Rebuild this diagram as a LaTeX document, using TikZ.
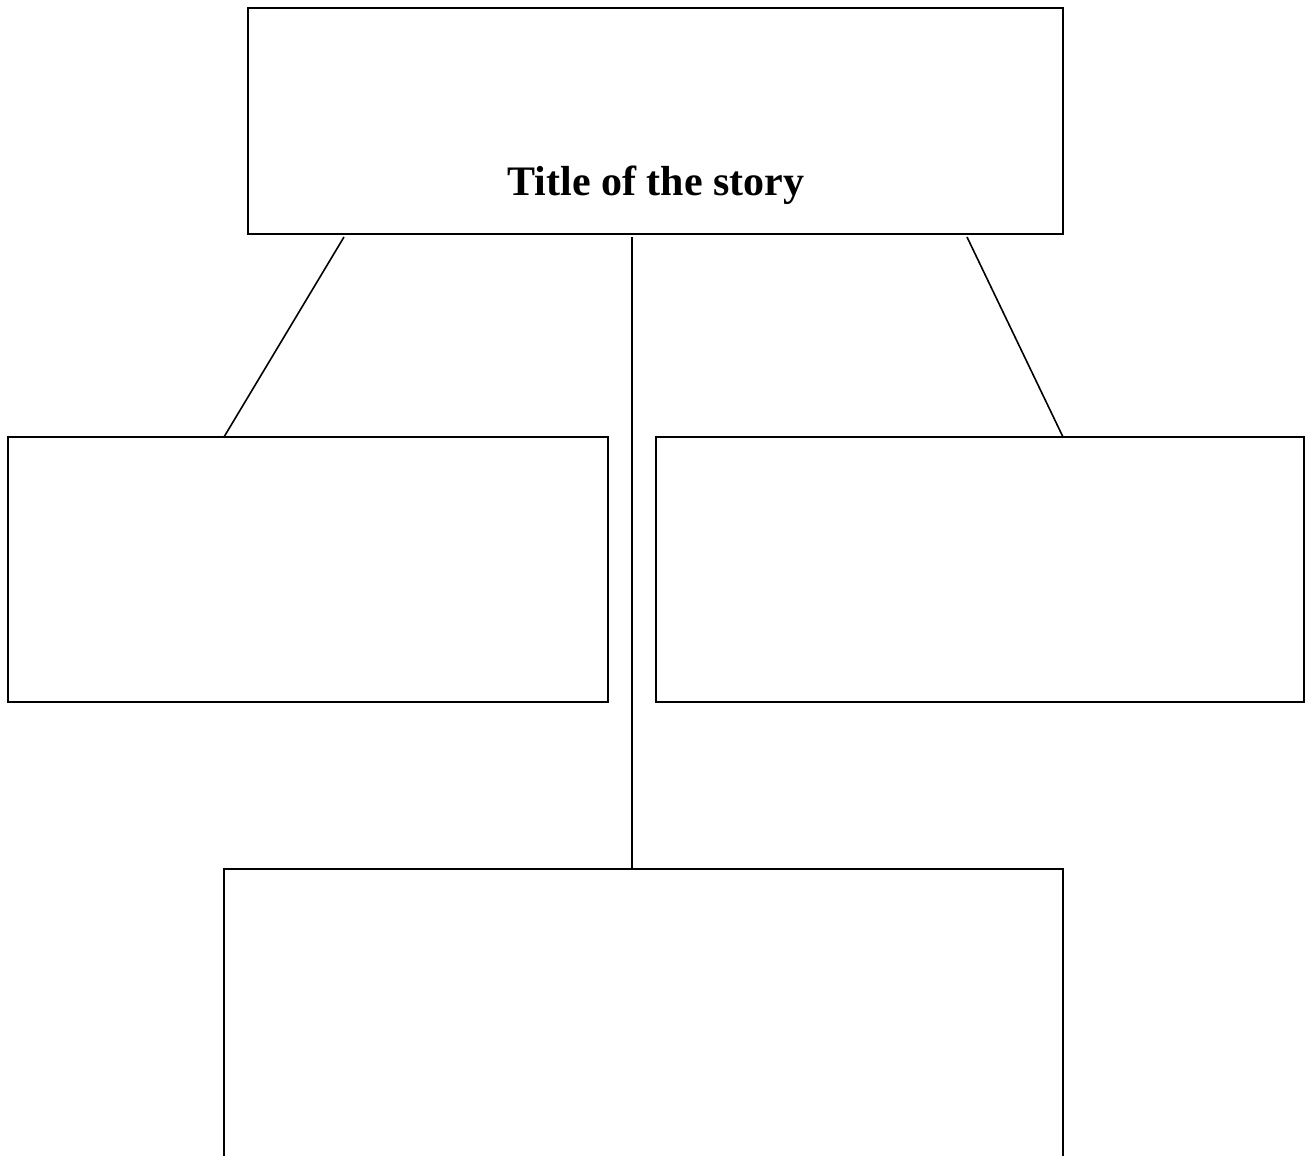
\documentclass[tikz,border=0pt]{standalone}
\usepackage{fontspec}
\setmainfont{Liberation Serif}
\begin{document}
\begin{tikzpicture}[
  x = 0.75pt, y = -0.75pt,
  box/.style = {draw, line width=1.2pt, inner sep=0pt, outer sep=0pt},
  edge/.style = {draw, line width=1.2pt},
  every node/.style = {font=\fontsize{31.5}{38}\selectfont\bfseries},
]

\useasboundingbox (0,0) rectangle (1307,1156);
\clip (0,0) rectangle (1307,1156);

\node[box, minimum width=611.25pt, minimum height=169.5pt] (title) at (655.5, 121) {};
\node[anchor=base] (titletext) at (656, 195) {Title of the story};

\node[box, minimum width=450pt, minimum height=198.75pt] (left)  at (308, 569.5) {};
\node[box, minimum width=486pt, minimum height=198.75pt] (right) at (980, 569.5) {};
\node[box, minimum width=629.25pt, minimum height=300pt] (bottom) at (643.5, 1069) {};

% the connectors start a little below the title box
\coordinate (lt) at (344, 237);
\coordinate (lb) at (224, 437);
\coordinate (mt) at (632, 237);
\coordinate (mb) at (632, 869);
\coordinate (rt) at (967, 237);
\coordinate (rb) at (1063, 437);

\foreach \from/\to in {lt/lb, mt/mb, rt/rb}
  \draw[edge] (\from) -- (\to);

\end{tikzpicture}
\end{document}
